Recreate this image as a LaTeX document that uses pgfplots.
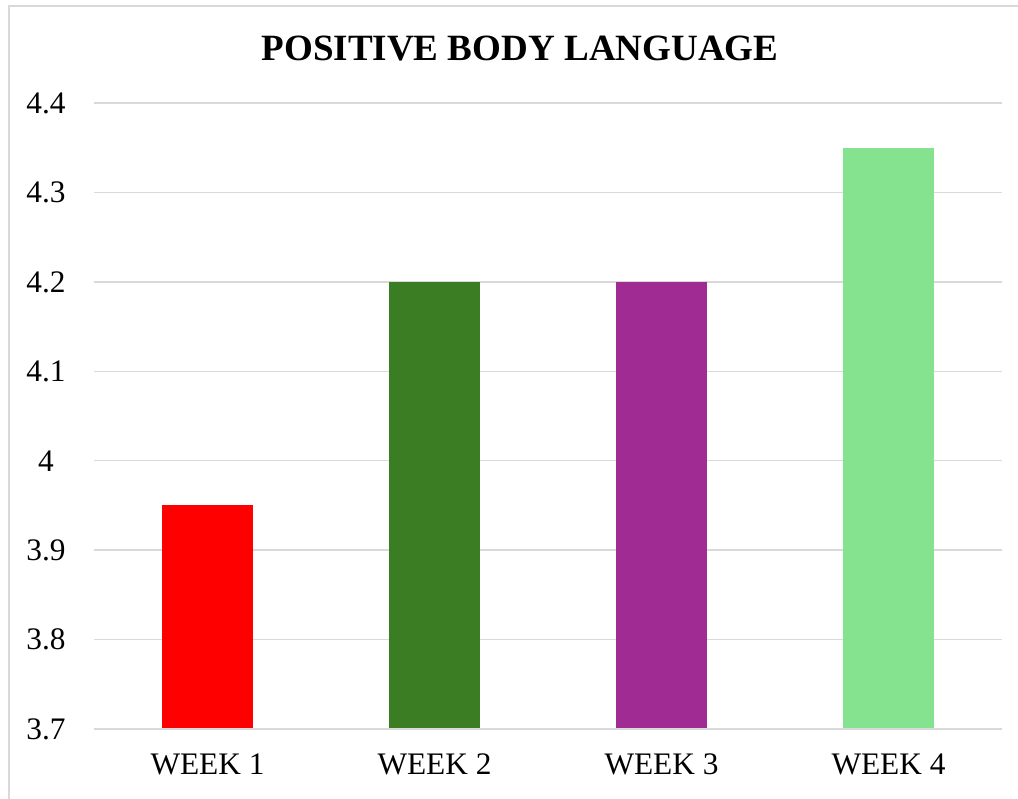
\documentclass[border=0pt]{standalone}
\usepackage{pgfplots}
\pgfplotsset{compat=1.18}
\usepackage{fontspec}
\setmainfont{Liberation Serif}
\definecolor{gridc}{HTML}{D9D9D9}
\definecolor{c1}{HTML}{FF0000}
\definecolor{c2}{HTML}{3B7D23}
\definecolor{c3}{HTML}{A02B93}
\definecolor{c4}{HTML}{85E28F}
\begin{document}
\begin{tikzpicture}
\path[use as bounding box] (0pt,0pt) rectangle (763.5pt,599.25pt);
\draw[gridc, line width=1.125pt] (6.75pt,0pt) -- (6.75pt,594.75pt) -- (763.5pt,594.75pt);
\begin{axis}[
  at={(70.5pt,52.5pt)}, anchor=south west,
  scale only axis, width=681pt, height=469.5pt,
  xmin=-0.5, xmax=3.5, ymin=3.7, ymax=4.4,
  axis line style={draw=none},
  ytick={3.7,3.8,...,4.4},
  yticklabels={3.7,3.8,3.9,4,4.1,4.2,4.3,4.4},
  ymajorgrids, grid style={gridc, line width=1.125pt},
  major tick length=0pt,
  xtick={0,1,2,3},
  xticklabels={WEEK 1,WEEK 2,WEEK 3,WEEK 4},
  tick label style={font=\fontsize{23.5}{27}\selectfont, text=black},
  yticklabel style={anchor=center, xshift=-36pt},
  xticklabel style={anchor=north, yshift=-15pt},
  /pgf/number format/assume math mode=true,
  clip=false,
]
\addplot[ybar, bar width=0.4, fill=c1, draw=none] coordinates {(0,3.95)};
\addplot[ybar, bar width=0.4, fill=c2, draw=none] coordinates {(1,4.2)};
\addplot[ybar, bar width=0.4, fill=c3, draw=none] coordinates {(2,4.2)};
\addplot[ybar, bar width=0.4, fill=c4, draw=none] coordinates {(3,4.35)};
\draw[gridc, line width=1.125pt] (axis cs:-0.5,3.7) -- (axis cs:3.5,3.7);
\end{axis}
\node[anchor=base, font=\bfseries\fontsize{27.8}{32}\selectfont] at (390pt,554pt) {POSITIVE BODY LANGUAGE};
\end{tikzpicture}
\end{document}
